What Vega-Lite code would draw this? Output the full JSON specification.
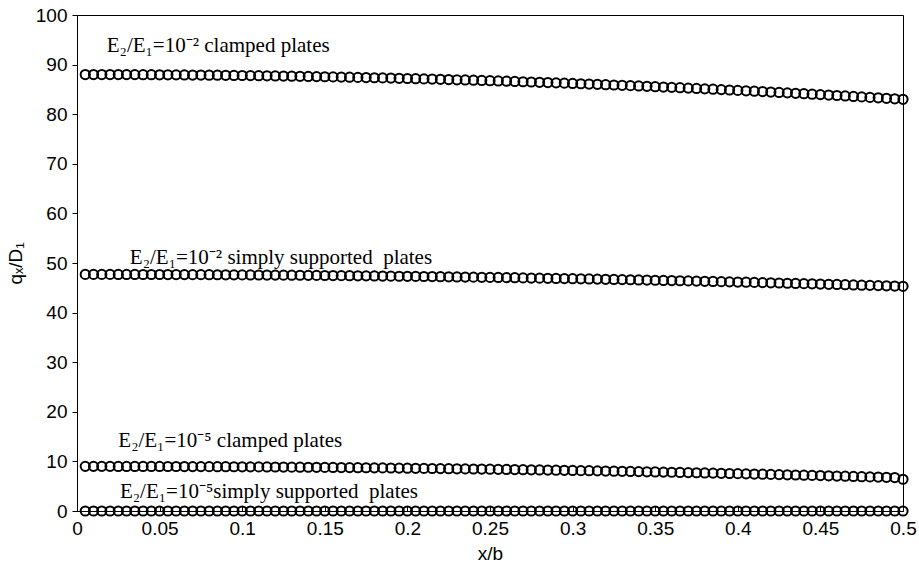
{
  "$schema": "https://vega.github.io/schema/vega-lite/v6.json",
  "width": 826,
  "height": 496,
  "autosize": {"type": "none"},
  "padding": {"left": 77, "top": 15, "right": 16, "bottom": 57},
  "background": "white",
  "config": {
    "view": {"stroke": "black", "strokeWidth": 1},
    "axis": {"domainColor": "black", "tickColor": "black", "grid": false, "labelFont": "Liberation Sans", "titleFont": "Liberation Sans", "labelFontSize": 19, "titleFontSize": 19, "labelColor": "black", "titleColor": "black", "titleFontWeight": "normal"}
  },
  "layer": [
    {
      "data": {"values": [
        {"x":0.005,"a":88.00,"b":47.70,"c":9.00,"d":0},
        {"x":0.010,"a":88.00,"b":47.70,"c":9.00,"d":0},
        {"x":0.015,"a":88.00,"b":47.70,"c":9.00,"d":0},
        {"x":0.020,"a":87.99,"b":47.70,"c":9.00,"d":0},
        {"x":0.025,"a":87.99,"b":47.69,"c":8.99,"d":0},
        {"x":0.030,"a":87.98,"b":47.69,"c":8.99,"d":0},
        {"x":0.035,"a":87.98,"b":47.69,"c":8.99,"d":0},
        {"x":0.040,"a":87.97,"b":47.68,"c":8.99,"d":0},
        {"x":0.045,"a":87.96,"b":47.68,"c":8.98,"d":0},
        {"x":0.050,"a":87.95,"b":47.68,"c":8.98,"d":0},
        {"x":0.055,"a":87.94,"b":47.67,"c":8.97,"d":0},
        {"x":0.060,"a":87.93,"b":47.67,"c":8.97,"d":0},
        {"x":0.065,"a":87.92,"b":47.66,"c":8.96,"d":0},
        {"x":0.070,"a":87.90,"b":47.65,"c":8.95,"d":0},
        {"x":0.075,"a":87.89,"b":47.65,"c":8.95,"d":0},
        {"x":0.080,"a":87.87,"b":47.64,"c":8.94,"d":0},
        {"x":0.085,"a":87.86,"b":47.63,"c":8.93,"d":0},
        {"x":0.090,"a":87.84,"b":47.62,"c":8.93,"d":0},
        {"x":0.095,"a":87.82,"b":47.61,"c":8.92,"d":0},
        {"x":0.100,"a":87.80,"b":47.60,"c":8.91,"d":0},
        {"x":0.105,"a":87.78,"b":47.59,"c":8.90,"d":0},
        {"x":0.110,"a":87.76,"b":47.58,"c":8.89,"d":0},
        {"x":0.115,"a":87.74,"b":47.57,"c":8.88,"d":0},
        {"x":0.120,"a":87.71,"b":47.56,"c":8.87,"d":0},
        {"x":0.125,"a":87.69,"b":47.55,"c":8.86,"d":0},
        {"x":0.130,"a":87.66,"b":47.54,"c":8.84,"d":0},
        {"x":0.135,"a":87.64,"b":47.53,"c":8.83,"d":0},
        {"x":0.140,"a":87.61,"b":47.51,"c":8.82,"d":0},
        {"x":0.145,"a":87.58,"b":47.50,"c":8.81,"d":0},
        {"x":0.150,"a":87.55,"b":47.48,"c":8.79,"d":0},
        {"x":0.155,"a":87.52,"b":47.47,"c":8.78,"d":0},
        {"x":0.160,"a":87.49,"b":47.45,"c":8.76,"d":0},
        {"x":0.165,"a":87.46,"b":47.44,"c":8.75,"d":0},
        {"x":0.170,"a":87.42,"b":47.42,"c":8.73,"d":0},
        {"x":0.175,"a":87.39,"b":47.41,"c":8.72,"d":0},
        {"x":0.180,"a":87.35,"b":47.39,"c":8.70,"d":0},
        {"x":0.185,"a":87.32,"b":47.37,"c":8.69,"d":0},
        {"x":0.190,"a":87.28,"b":47.35,"c":8.67,"d":0},
        {"x":0.195,"a":87.24,"b":47.33,"c":8.65,"d":0},
        {"x":0.200,"a":87.20,"b":47.32,"c":8.63,"d":0},
        {"x":0.205,"a":87.16,"b":47.30,"c":8.61,"d":0},
        {"x":0.210,"a":87.12,"b":47.28,"c":8.59,"d":0},
        {"x":0.215,"a":87.08,"b":47.26,"c":8.57,"d":0},
        {"x":0.220,"a":87.03,"b":47.24,"c":8.55,"d":0},
        {"x":0.225,"a":86.99,"b":47.21,"c":8.53,"d":0},
        {"x":0.230,"a":86.94,"b":47.19,"c":8.51,"d":0},
        {"x":0.235,"a":86.90,"b":47.17,"c":8.49,"d":0},
        {"x":0.240,"a":86.85,"b":47.15,"c":8.47,"d":0},
        {"x":0.245,"a":86.80,"b":47.12,"c":8.45,"d":0},
        {"x":0.250,"a":86.75,"b":47.10,"c":8.43,"d":0},
        {"x":0.255,"a":86.70,"b":47.08,"c":8.40,"d":0},
        {"x":0.260,"a":86.65,"b":47.05,"c":8.38,"d":0},
        {"x":0.265,"a":86.60,"b":47.03,"c":8.35,"d":0},
        {"x":0.270,"a":86.54,"b":47.00,"c":8.33,"d":0},
        {"x":0.275,"a":86.49,"b":46.97,"c":8.30,"d":0},
        {"x":0.280,"a":86.43,"b":46.95,"c":8.28,"d":0},
        {"x":0.285,"a":86.38,"b":46.92,"c":8.25,"d":0},
        {"x":0.290,"a":86.32,"b":46.89,"c":8.23,"d":0},
        {"x":0.295,"a":86.26,"b":46.86,"c":8.20,"d":0},
        {"x":0.300,"a":86.20,"b":46.84,"c":8.17,"d":0},
        {"x":0.305,"a":86.14,"b":46.81,"c":8.14,"d":0},
        {"x":0.310,"a":86.08,"b":46.78,"c":8.12,"d":0},
        {"x":0.315,"a":86.02,"b":46.75,"c":8.09,"d":0},
        {"x":0.320,"a":85.95,"b":46.72,"c":8.06,"d":0},
        {"x":0.325,"a":85.89,"b":46.69,"c":8.03,"d":0},
        {"x":0.330,"a":85.82,"b":46.65,"c":8.00,"d":0},
        {"x":0.335,"a":85.76,"b":46.62,"c":7.97,"d":0},
        {"x":0.340,"a":85.69,"b":46.59,"c":7.94,"d":0},
        {"x":0.345,"a":85.62,"b":46.56,"c":7.90,"d":0},
        {"x":0.350,"a":85.55,"b":46.52,"c":7.87,"d":0},
        {"x":0.355,"a":85.48,"b":46.49,"c":7.84,"d":0},
        {"x":0.360,"a":85.41,"b":46.46,"c":7.81,"d":0},
        {"x":0.365,"a":85.34,"b":46.42,"c":7.77,"d":0},
        {"x":0.370,"a":85.26,"b":46.39,"c":7.74,"d":0},
        {"x":0.375,"a":85.19,"b":46.35,"c":7.71,"d":0},
        {"x":0.380,"a":85.11,"b":46.31,"c":7.67,"d":0},
        {"x":0.385,"a":85.04,"b":46.28,"c":7.64,"d":0},
        {"x":0.390,"a":84.96,"b":46.24,"c":7.60,"d":0},
        {"x":0.395,"a":84.88,"b":46.20,"c":7.56,"d":0},
        {"x":0.400,"a":84.80,"b":46.16,"c":7.53,"d":0},
        {"x":0.405,"a":84.72,"b":46.13,"c":7.49,"d":0},
        {"x":0.410,"a":84.64,"b":46.09,"c":7.45,"d":0},
        {"x":0.415,"a":84.56,"b":46.05,"c":7.42,"d":0},
        {"x":0.420,"a":84.47,"b":46.01,"c":7.38,"d":0},
        {"x":0.425,"a":84.39,"b":45.97,"c":7.34,"d":0},
        {"x":0.430,"a":84.30,"b":45.92,"c":7.30,"d":0},
        {"x":0.435,"a":84.22,"b":45.88,"c":7.26,"d":0},
        {"x":0.440,"a":84.13,"b":45.84,"c":7.22,"d":0},
        {"x":0.445,"a":84.04,"b":45.80,"c":7.18,"d":0},
        {"x":0.450,"a":83.95,"b":45.76,"c":7.14,"d":0},
        {"x":0.455,"a":83.86,"b":45.71,"c":7.10,"d":0},
        {"x":0.460,"a":83.77,"b":45.67,"c":7.05,"d":0},
        {"x":0.465,"a":83.68,"b":45.62,"c":7.01,"d":0},
        {"x":0.470,"a":83.58,"b":45.58,"c":6.97,"d":0},
        {"x":0.475,"a":83.49,"b":45.53,"c":6.92,"d":0},
        {"x":0.480,"a":83.39,"b":45.49,"c":6.88,"d":0},
        {"x":0.485,"a":83.30,"b":45.44,"c":6.84,"d":0},
        {"x":0.490,"a":83.20,"b":45.40,"c":6.79,"d":0},
        {"x":0.495,"a":83.10,"b":45.35,"c":6.75,"d":0},
        {"x":0.500,"a":83.00,"b":45.30,"c":6.40,"d":0}
      ]},
      "transform": [{"fold": ["a", "b", "c", "d"], "as": ["series", "q"]}],
      "mark": {"type": "point", "shape": "circle", "filled": false, "stroke": "black", "strokeWidth": 2, "size": 85, "opacity": 1, "clip": false},
      "encoding": {
        "x": {"field": "x", "type": "quantitative", "scale": {"domain": [0, 0.5], "nice": false},
          "axis": {"title": "x/b", "values": [0,0.05,0.1,0.15,0.2,0.25,0.3,0.35,0.4,0.45,0.5], "format": "~g", "tickSize": -5, "labelPadding": 13, "titlePadding": 6, "labelFlush": false}},
        "y": {"field": "q", "type": "quantitative", "scale": {"domain": [0, 100], "nice": false},
          "axis": {"title": "qₓ/D₁", "values": [0,10,20,30,40,50,60,70,80,90,100], "tickSize": 5, "labelPadding": 5, "titlePadding": 10}},
        "detail": {"field": "series"}
      }
    },
    {
      "data": {"values": [
        {"tx": 0.018, "ty": 93.8, "label": "E₂/E₁=10⁻² clamped plates"},
        {"tx": 0.032, "ty": 51.1, "label": "E₂/E₁=10⁻² simply supported\u00a0 plates"},
        {"tx": 0.025, "ty": 14.1, "label": "E₂/E₁=10⁻⁵ clamped plates"},
        {"tx": 0.026, "ty": 3.8, "label": "E₂/E₁=10⁻⁵simply supported\u00a0 plates"}
      ]},
      "mark": {"type": "text", "align": "left", "baseline": "middle", "font": "Liberation Serif", "fontSize": 21, "color": "black"},
      "encoding": {
        "x": {"field": "tx", "type": "quantitative"},
        "y": {"field": "ty", "type": "quantitative"},
        "text": {"field": "label"}
      }
    }
  ]
}
